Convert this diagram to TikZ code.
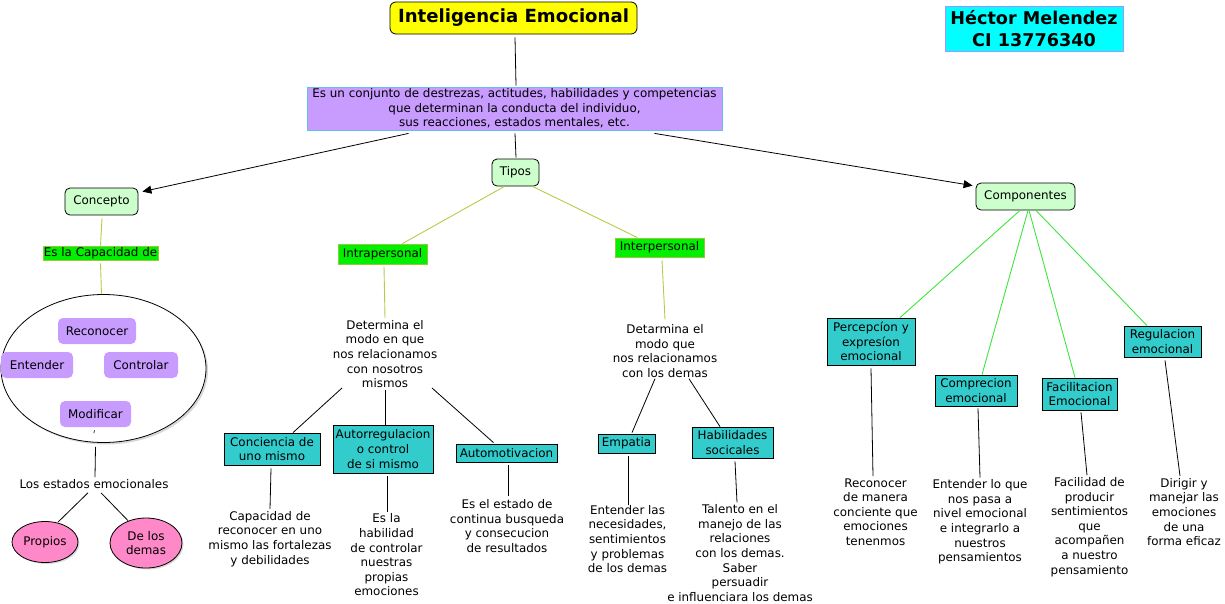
\documentclass[tikz,border=0pt]{standalone}
\usepackage{fontspec}
\setmainfont{DejaVu Sans}
\usetikzlibrary{shapes.geometric,arrows.meta,shadows}
\definecolor{titley}{RGB}{255,255,0}
\definecolor{cyanb}{RGB}{0,255,255}
\definecolor{lavb}{RGB}{160,150,255}
\definecolor{purp}{RGB}{200,155,255}
\definecolor{lblue}{RGB}{100,190,230}
\definecolor{lgreen}{RGB}{204,255,204}
\definecolor{bgreen}{RGB}{0,240,0}
\definecolor{bgborder}{RGB}{150,200,60}
\definecolor{olive}{RGB}{180,205,70}
\definecolor{lime}{RGB}{60,230,60}
\definecolor{teal}{RGB}{51,204,204}
\definecolor{pink}{RGB}{255,136,200}
\tikzset{
  every node/.style={font=\fontsize{11.9}{14.6}\selectfont, align=center, inner sep=0pt, text=black},
  rbox/.style={draw=black, rounded corners=5pt, fill=lgreen, line width=0.8pt},
  gbox/.style={draw=bgborder, fill=bgreen, line width=0.8pt},
  tbox/.style={draw=black, fill=teal, line width=0.8pt},
  pbox/.style={fill=purp, rounded corners=5pt},
  pel/.style={ellipse, draw=black, fill=pink, line width=0.8pt, drop shadow={shadow xshift=1.5pt, shadow yshift=-1.5pt, fill=gray!60}},
  blk/.style={draw=black, line width=0.8pt},
  olv/.style={draw=olive, line width=0.9pt},
  lim/.style={draw=lime, line width=0.9pt},
  arr/.style={draw=black, line width=0.8pt, -{Triangle[length=9pt,width=8pt]}},
}
\begin{document}
\begin{tikzpicture}[x=1pt,y=-1pt]
\useasboundingbox (0,0) rectangle (1225,603);
% top
\node[draw=black, fill=titley, rounded corners=6pt, line width=0.8pt, minimum width=247pt, minimum height=32pt, font=\fontsize{18.1}{20}\selectfont\bfseries] (title) at (513.5,18) {Inteligencia Emocional};
\node[draw=lavb, fill=cyanb, line width=0.8pt, minimum width=178pt, minimum height=45pt, font=\fontsize{17.6}{22}\selectfont\bfseries] (author) at (1034,28.5) {Héctor Melendez\\CI 13776340};
\node[draw=lblue, fill=purp, line width=0.8pt, minimum width=415pt, minimum height=43pt] (def) at (514.5,108.5) {Es un conjunto de destrezas, actitudes, habilidades y competencias\\que determinan la conducta del individuo,\\sus reacciones, estados mentales, etc.};
\node[rbox, minimum width=47pt, minimum height=27pt] (tipos) at (515.5,172.5) {Tipos};
\node[rbox, minimum width=73pt, minimum height=27pt] (concepto) at (101.5,201.5) {Concepto};
\node[rbox, minimum width=99pt, minimum height=27pt] (comp) at (1025.5,196.5) {Componentes};
\draw[blk] ([xshift=1.5pt,yshift=-3pt]title.south) -- ([xshift=1.5pt,yshift=1pt]def.north);
\draw[blk] ([xshift=0.5pt,yshift=-3pt]def.south) -- ([xshift=0.5pt,yshift=1pt]tipos.north);
\draw[arr] ([xshift=-106pt,yshift=-3pt]def.south) -- ([xshift=4pt,yshift=-4pt]concepto.north east);
\draw[arr] ([xshift=140pt,yshift=-3pt]def.south) -- ([xshift=-3pt,yshift=-3pt]comp.north west);
% Concepto branch
\node[gbox, minimum width=115pt, minimum height=14pt] (capac) at (100.5,253) {Es la Capacidad de};
\draw[olv] ([xshift=0.5pt,yshift=-3pt]concepto.south) -- (capac.north);
\node[ellipse, draw=black, fill=white, line width=0.8pt, minimum width=205pt, minimum height=148pt, drop shadow={shadow xshift=2pt, shadow yshift=-2pt, fill=gray!60}] (ell) at (103.5,368.5) {};
\draw[olv] ([yshift=-3pt]capac.south) -- ([xshift=-2pt]ell.north);
\node[pbox, minimum width=78pt, minimum height=26pt] (recon) at (97,331) {Reconocer};
\node[pbox, minimum width=72pt, minimum height=26pt] (enten) at (37,365) {Entender};
\node[pbox, minimum width=74pt, minimum height=26pt] (contr) at (141,365) {Controlar};
\node[pbox, minimum width=71pt, minimum height=26pt] (modif) at (95.5,414) {Modificar};
\draw[black, line width=0.6pt] ([xshift=-1pt,yshift=-3pt]modif.south) -- ([xshift=-1.7pt,yshift=-6pt]modif.south);
\node (estados) at (94,484) {Los estados emocionales};
\draw[blk] ([xshift=-8pt,yshift=-4pt]ell.south) -- ([xshift=1pt,yshift=2pt]estados.north);
\node[pel, minimum width=66pt, minimum height=41pt] (propios) at (45,542) {Propios};
\node[pel, minimum width=72pt, minimum height=50pt] (demas) at (146,543) {De los\\demas};
\draw[blk] ([xshift=-6pt,yshift=-4pt]estados.south) -- ([xshift=13pt,yshift=-1pt]propios.north);
\draw[blk] ([xshift=7pt,yshift=-4pt]estados.south) -- ([xshift=-18pt,yshift=-3pt]demas.north);
% Tipos branch
\node[gbox, minimum width=89pt, minimum height=20pt] (intra) at (382.5,254) {Intrapersonal};
\node[gbox, minimum width=89pt, minimum height=19pt] (inter) at (659.5,247.5) {Interpersonal};
\draw[olv] ([xshift=-11pt]tipos.south) -- ([xshift=-25pt]intra.north east);
\draw[olv] ([xshift=17pt]tipos.south) -- ([xshift=-22pt]inter.north);
\node (determ) at (385,354) {Determina el\\modo en que\\nos relacionamos\\con nosotros\\mismos};
\draw[olv] ([xshift=1.5pt,yshift=-2pt]intra.south) -- ([yshift=2pt]determ.north);
\node[tbox, minimum width=96pt, minimum height=32pt] (concien) at (272,449) {Conciencia de\\uno mismo};
\node[tbox, minimum width=100pt, minimum height=48pt] (autorr) at (383,449) {Autorregulacion\\o control\\de si mismo};
\node[tbox, minimum width=101pt, minimum height=18pt] (automot) at (506.5,453) {Automotivacion};
\draw[blk] ([xshift=-43pt]determ.south) -- ([xshift=21pt]concien.north);
\draw[blk] ([yshift=-2pt]determ.south) -- ([xshift=2pt]autorr.north);
\draw[blk] ([xshift=47pt]determ.south) -- ([xshift=-13pt,yshift=1pt]automot.north);
\node (tcap) at (270,539) {Capacidad de\\reconocer en uno\\mismo las fortalezas\\y debilidades};
\node (tesla) at (386.5,555) {Es la\\habilidad\\de controlar\\nuestras\\propias\\emociones};
\node (testado) at (507,526) {Es el estado de\\continua busqueda\\y consecucion\\de resultados};
\draw[blk] ([xshift=-1pt,yshift=-3pt]concien.south) -- ([yshift=2pt]tcap.north);
\draw[blk] ([xshift=4pt,yshift=-3pt]autorr.south) -- ([xshift=0.5pt,yshift=2pt]tesla.north);
\draw[blk] ([xshift=1.5pt,yshift=-3pt]automot.south) -- ([xshift=1pt,yshift=3pt]testado.north);
% Interpersonal branch
\node (detar) at (665,351) {Detarmina el\\modo que\\nos relacionamos\\con los demas};
\draw[olv] ([xshift=2.5pt,yshift=-3pt]inter.south) -- ([yshift=5pt]detar.north);
\node[tbox, minimum width=57pt, minimum height=19pt] (empat) at (626.5,443.5) {Empatia};
\node[tbox, minimum width=81pt, minimum height=31pt] (habil) at (732.5,442.5) {Habilidades\\socicales};
\draw[blk] ([xshift=-10pt,yshift=-1pt]detar.south) -- ([xshift=5.5pt,yshift=1pt]empat.north);
\draw[blk] ([xshift=24pt,yshift=-1pt]detar.south) -- ([xshift=-12.5pt]habil.north);
\node (tent) at (627.5,539) {Entender las\\necesidades,\\sentimientos\\y problemas\\de los demas};
\node (ttal) at (740,553) {Talento en el\\manejo de las\\relaciones\\con los demas.\\Saber\\persuadir\\e influenciara los demas};
\draw[blk] ([xshift=1.5pt,yshift=-3pt]empat.south) -- ([xshift=0.5pt,yshift=0pt]tent.north);
\draw[blk] ([xshift=2.5pt,yshift=-3pt]habil.south) -- ([xshift=-3pt,yshift=2pt]ttal.north);
% Componentes branch
\node[tbox, minimum width=88pt, minimum height=47pt] (perc) at (871,341.5) {Percepcíon y\\expresíon\\emocional};
\node[tbox, minimum width=82pt, minimum height=31pt] (compr) at (976,390.5) {Comprecion\\emocional};
\node[tbox, minimum width=75pt, minimum height=32pt] (facil) at (1079.5,394) {Facilitacion\\Emocional};
\node[tbox, minimum width=77pt, minimum height=31pt] (regul) at (1162.5,341.5) {Regulacion\\emocional};
\draw[lim] ([xshift=-5.5pt]comp.south) -- ([xshift=29pt]perc.north);
\draw[lim] ([xshift=2.5pt]comp.south) -- ([xshift=6pt]compr.north);
\draw[lim] ([xshift=3.5pt]comp.south) -- ([xshift=-4.5pt]facil.north);
\draw[lim] ([xshift=10.5pt]comp.south) -- ([xshift=-15.5pt]regul.north);
\node (trec) at (875.5,512) {Reconocer\\de manera\\conciente que\\emociones\\tenenmos};
\node (tentl) at (980,522) {Entender lo que\\nos pasa a\\nivel emocional\\e integrarlo a\\nuestros\\pensamientos};
\node (tfac) at (1089.5,527) {Facilidad de\\producir\\sentimientos\\que\\acompañen\\a nuestro\\pensamiento};
\node (tdir) at (1184,512) {Dirigir y\\manejar las\\emociones\\de una\\forma eficaz};
\draw[blk] ([yshift=-3pt]perc.south) -- ([xshift=-2.5pt,yshift=2pt]trec.north);
\draw[blk] ([xshift=2pt,yshift=-2pt]compr.south) -- ([yshift=2pt]tentl.north);
\draw[blk] ([xshift=1.5pt,yshift=-2pt]facil.south) -- ([xshift=-2.5pt,yshift=2pt]tfac.north);
\draw[blk] ([xshift=2.5pt,yshift=-3pt]regul.south) -- ([xshift=-4pt,yshift=2pt]tdir.north);
\end{tikzpicture}
\end{document}
